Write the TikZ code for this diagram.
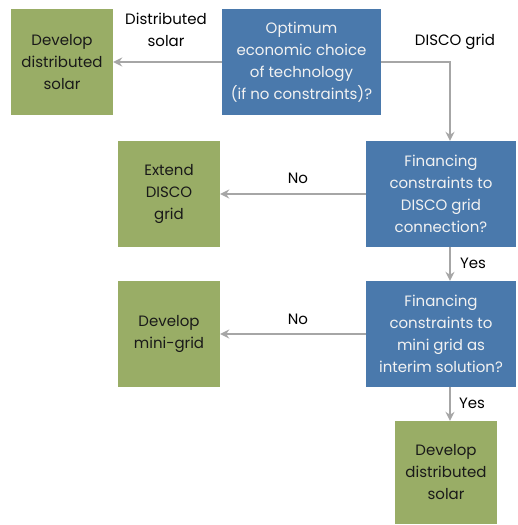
\documentclass[tikz,border=0pt]{standalone}
\usepackage{fontspec}
\setmainfont{Poppins}
\usetikzlibrary{arrows.meta}
\definecolor{bluebox}{HTML}{4A79AC}
\definecolor{greenbox}{HTML}{99AD66}
\definecolor{arrowgray}{HTML}{A6A6A6}
\definecolor{lighttext}{HTML}{F2F2F2}
\begin{document}
\begin{tikzpicture}[x=1pt,y=-1pt,
  every node/.style={font=\fontsize{15}{22}\selectfont, align=center, inner sep=0pt},
  qbox/.style={fill=bluebox, text=lighttext, minimum height=106pt},
  abox/.style={fill=greenbox, text=black!90, minimum width=102pt, minimum height=106pt},
  lbl/.style={text=black},
  conn/.style={draw=arrowgray, line width=2pt, -{Stealth[length=9pt,width=9pt,inset=3pt]}}
]
\useasboundingbox (0,0) rectangle (517,525);
\node[abox] (g1) at (62,62) {Develop\\distributed\\solar};
\node[qbox, minimum width=159pt] (b1) at (301.5,62) {Optimum\\economic choice\\of technology\\(if no constraints)?};
\node[qbox, minimum width=150pt] (b2) at (441,194) {Financing\\constraints to\\DISCO grid\\connection?};
\node[abox] (g2) at (169,194) {Extend\\DISCO\\grid};
\node[qbox, minimum width=150pt] (b3) at (441,334) {Financing\\constraints to\\mini grid as\\interim solution?};
\node[abox] (g3) at (169,334) {Develop\\mini-grid};
\node[abox, minimum height=103pt] (g4) at (446,472.5) {Develop\\distributed\\solar};
\coordinate (c1) at (450,62);
\draw[conn] (b1.west) -- (g1.east);
\draw[conn] (b1.east) -- (c1) -- (c1 |- b2.north);
\draw[conn] (b2.west) -- (g2.east);
\draw[conn] (b2.south -| c1) -- (b3.north -| c1);
\draw[conn] (b3.west) -- (g3.east);
\draw[conn] (b3.south -| c1) -- (g4.north -| c1);
\node[lbl] (l1) at (166,30) {Distributed\\solar};
\node[lbl] (l2) at (455,42) {DISCO grid};
\node[lbl] (l3) at (298,178) {No};
\node[lbl] (l4) at (298,319) {No};
\node[lbl] (l5) at (473,263) {Yes};
\node[lbl] (l6) at (472,403) {Yes};
\end{tikzpicture}
\end{document}
